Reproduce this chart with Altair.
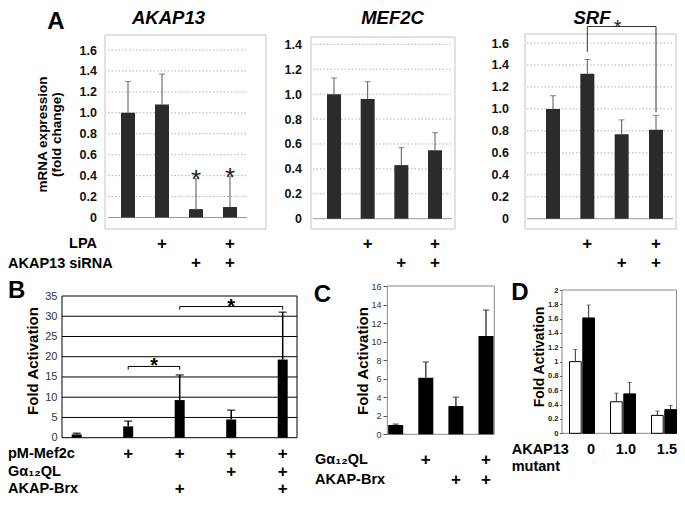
import altair as alt
import pandas as pd

FONT = "Liberation Sans"
M = 8      # page margin: the chart origin sits at page (8, 8)
DA = 7     # row A is pushed down a little so that its titles are not clipped


def P(v):
    return v - M


def PA(v):
    return v - M + DA


# ---------------------------------------------------------------- data
a_conditions = ["control", "LPA", "AKAP13 siRNA", "LPA + AKAP13 siRNA"]
a_lpa = ["", "+", "", "+"]
a_sirna = ["", "", "+", "+"]
a_titles = ["AKAP13", "MEF2C", "SRF"]
a_row_labels = ["LPA", "AKAP13 siRNA"]
a_ylabel = ["mRNA expression", "(fold change)"]

akap13_mean = [1.00, 1.08, 0.08, 0.10]
akap13_upper = [1.30, 1.37, 0.37, 0.39]
akap13_star = ["", "", "*", "*"]
akap13_ticks = [0, 0.2, 0.4, 0.6, 0.8, 1.0, 1.2, 1.4, 1.6]

mef2c_mean = [1.00, 0.96, 0.43, 0.55]
mef2c_upper = [1.13, 1.10, 0.57, 0.69]
mef2c_ticks = [0, 0.2, 0.4, 0.6, 0.8, 1.0, 1.2, 1.4]

srf_mean = [1.00, 1.32, 0.77, 0.81]
srf_upper = [1.12, 1.45, 0.90, 0.94]
srf_ticks = [0, 0.2, 0.4, 0.6, 0.8, 1.0, 1.2, 1.4, 1.6]
srf_bracket_from = ["LPA"]
srf_bracket_to = ["LPA + AKAP13 siRNA"]
srf_bracket_top = [1.75]
srf_bracket_left_end = [1.52]
srf_bracket_right_end = [0.97]

b_conditions = ["basal", "pM-Mef2c", "pM-Mef2c + AKAP-Brx",
                "pM-Mef2c + Gα12QL", "pM-Mef2c + Gα12QL + AKAP-Brx"]
b_pm = ["", "+", "+", "+", "+"]
b_g12 = ["", "", "", "+", "+"]
b_brx = ["", "", "+", "", "+"]
b_mean = [0.8, 2.8, 9.3, 4.5, 19.3]
b_upper = [1.1, 4.1, 15.5, 6.8, 31.0]
b_ticks = [0, 5, 10, 15, 20, 25, 30, 35]
b_bracket_from = ["pM-Mef2c", "pM-Mef2c + AKAP-Brx"]
b_bracket_to = ["pM-Mef2c + AKAP-Brx", "pM-Mef2c + Gα12QL + AKAP-Brx"]
b_bracket_top = [17.6, 32.4]
b_bracket_end = [16.8, 31.6]
b_row_labels = ["pM-Mef2c", "Gα₁₂QL", "AKAP-Brx"]

c_conditions = ["basal", "Gα12QL", "AKAP-Brx", "Gα12QL + AKAP-Brx"]
c_g12 = ["", "+", "", "+"]
c_brx = ["", "", "+", "+"]
c_mean = [1.0, 6.1, 3.05, 10.6]
c_upper = [1.1, 7.8, 4.0, 13.4]
c_ticks = [0, 2, 4, 6, 8, 10, 12, 14, 16]
c_row_labels = ["Gα₁₂QL", "AKAP-Brx"]

d_mutants = ["0", "1.0", "1.5"]
d_series = ["open", "filled"]
d_open_mean = [1.00, 0.44, 0.25]
d_open_upper = [1.17, 0.56, 0.31]
d_filled_mean = [1.61, 0.55, 0.33]
d_filled_upper = [1.79, 0.71, 0.39]
d_ticks = [0, 0.2, 0.4, 0.6, 0.8, 1.0, 1.2, 1.4, 1.6, 1.8, 2.0]
d_row_labels = ["AKAP13", "mutant"]

panel_letters = ["A", "B", "C", "D"]
fold_label = "Fold Activation"

ONE = pd.DataFrame({"k": [0]})


# ---------------------------------------------------------------- helpers
def text_at(txt, x, y, size, weight="bold", align="left", baseline="middle",
            angle=None, style=None, color="#000000", line_height=None):
    kw = dict(text=txt, font=FONT, fontSize=size, fontWeight=weight,
              align=align, baseline=baseline, color=color)
    if angle is not None:
        kw["angle"] = angle
    if style:
        kw["fontStyle"] = style
    if line_height:
        kw["lineHeight"] = line_height
    return alt.Chart(ONE).mark_text(**kw).encode(x=alt.value(P(x)), y=alt.value(P(y)))


def frame(x0, y0, x1, y1, color, width=1.0):
    return alt.Chart(ONE).mark_rect(fill="#ffffff", fillOpacity=0, stroke=color,
                                    strokeWidth=width).encode(
        x=alt.value(P(x0)), x2=alt.value(P(x1)), y=alt.value(y0), y2=alt.value(y1))


def grid(vals, ysc, yaxis, x0, x1, color, width=1.0, dash=None):
    kw = dict(color=color, strokeWidth=width)
    if dash:
        kw["strokeDash"] = dash
    return alt.Chart(pd.DataFrame({"v": vals})).mark_rule(**kw).encode(
        y=alt.Y("v:Q", scale=ysc, axis=yaxis), x=alt.value(P(x0)), x2=alt.value(P(x1)))


def point_panel(conds, means, uppers, xr, yd, yr, ticks, axis_x, axis_kw,
                bar_color, bar_w, err_color, err_w, cap_w):
    df = pd.DataFrame({"cond": conds, "mean": means, "upper": uppers})
    xs = alt.Scale(type="point", domain=conds, range=xr, padding=0)
    ysc = alt.Scale(domain=yd, range=yr, nice=False)
    X = alt.X("cond:N", scale=xs, axis=None)
    axis = alt.Axis(orient="left", offset=-axis_x, values=ticks, domain=False,
                    grid=False, title=None, labelFont=FONT, **axis_kw)
    bars = alt.Chart(df).mark_bar(color=bar_color, width=bar_w).encode(
        x=X, y=alt.Y("mean:Q", scale=ysc, axis=axis))
    err = alt.Chart(df).mark_rule(color=err_color, strokeWidth=err_w).encode(
        x=X, y=alt.Y("mean:Q", scale=ysc, axis=axis), y2=alt.Y2("upper"))
    cap = alt.Chart(df).mark_tick(color=err_color, thickness=err_w, size=cap_w,
                                  orient="horizontal").encode(
        x=X, y=alt.Y("upper:Q", scale=ysc, axis=axis))
    return X, xs, ysc, axis, [bars, err, cap]


def plus_row(conds, marks, X, y, size=17):
    df = pd.DataFrame({"cond": conds, "mark": marks})
    return alt.Chart(df).mark_text(font=FONT, fontSize=size, fontWeight="bold",
                                   baseline="middle").encode(
        x=X, y=alt.value(y), text="mark:N")


def bracket(froms, tos, tops, left_ends, right_ends, xs, ysc, yaxis, color, width):
    df = pd.DataFrame({"cond": froms, "to": tos, "top": tops,
                       "lend": left_ends, "rend": right_ends})
    X_from = alt.X("cond:N", scale=xs, axis=None)
    X_to = alt.X("to:N", scale=xs, axis=None)
    Yt = alt.Y("top:Q", scale=ysc, axis=yaxis)
    h = alt.Chart(df).mark_rule(color=color, strokeWidth=width).encode(
        x=X_from, x2=alt.X2("to"), y=Yt)
    l = alt.Chart(df).mark_rule(color=color, strokeWidth=width).encode(
        x=X_from, y=alt.Y("lend:Q", scale=ysc, axis=yaxis), y2=alt.Y2("top"))
    r = alt.Chart(df).mark_rule(color=color, strokeWidth=width).encode(
        x=X_to, y=alt.Y("rend:Q", scale=ysc, axis=yaxis), y2=alt.Y2("top"))
    return [h, l, r]


A_AXIS = dict(ticks=False, labelPadding=3.5, labelFontSize=12.5, labelFontWeight="bold",
              labelColor="#111111",
              labelExpr="datum.value == 0 ? '0' : format(datum.value, '.1f')")
A_BAR = dict(bar_color="#2b2b2b", bar_w=14, err_color="#555555", err_w=1, cap_w=6)

layers = []

# ---------------------------------------------------------------- panel A1 AKAP13
X1, XS1, Y1, AX1, l1 = point_panel(a_conditions, akap13_mean, akap13_upper, [P(128), P(230)],
                                   [0, 1.6], [PA(210.5), PA(43)], akap13_ticks, P(100),
                                   A_AXIS, **A_BAR)
star_df = pd.DataFrame({"cond": a_conditions, "upper": akap13_upper, "star": akap13_star})
a1 = [frame(105, PA(28), 266, PA(222), "#c4c4c4"),
      grid(akap13_ticks[1:], Y1, AX1, 108, 247, "#b0b0b0", 1, [1.5, 2]),
      grid([0], Y1, AX1, 108, 247, "#999999", 1)] + l1 + [
    alt.Chart(star_df).mark_text(font=FONT, fontSize=26, color="#222222",
                                 baseline="alphabetic", dy=9).encode(
        x=X1, y=alt.Y("upper:Q", scale=Y1, axis=AX1), text="star:N"),
    plus_row(a_conditions, a_lpa, X1, PA(237)),
    plus_row(a_conditions, a_sirna, X1, PA(256)),
]
layers.append(alt.layer(*a1))

# ---------------------------------------------------------------- panel A2 MEF2C
X2, XS2, Y2, AX2, l2 = point_panel(a_conditions, mef2c_mean, mef2c_upper, [P(334), P(435)],
                                   [0, 1.4], [PA(211.7), PA(37.3)], mef2c_ticks, P(305),
                                   A_AXIS, **A_BAR)
a2 = [frame(311, PA(30), 455, PA(222), "#c4c4c4"),
      grid(mef2c_ticks[1:], Y2, AX2, 313, 452, "#b0b0b0", 1, [1.5, 2]),
      grid([0], Y2, AX2, 313, 452, "#999999", 1)] + l2 + [
    plus_row(a_conditions, a_lpa, X2, PA(237)),
    plus_row(a_conditions, a_sirna, X2, PA(256)),
]
layers.append(alt.layer(*a2))

# ---------------------------------------------------------------- panel A3 SRF
X3, XS3, Y3, AX3, l3 = point_panel(a_conditions, srf_mean, srf_upper, [P(553), P(656)],
                                   [0, 1.6], [PA(211.7), PA(36)], srf_ticks, P(512),
                                   A_AXIS, **A_BAR)
srf_star_df = pd.DataFrame({"cond": ["AKAP13 siRNA"], "top": srf_bracket_top})
a3 = [frame(525, PA(27), 676, PA(222), "#c4c4c4"),
      grid(srf_ticks[1:], Y3, AX3, 527, 673, "#b0b0b0", 1, [1.5, 2]),
      grid([0], Y3, AX3, 527, 673, "#999999", 1)] + l3 + bracket(
    srf_bracket_from, srf_bracket_to, srf_bracket_top, srf_bracket_left_end,
    srf_bracket_right_end, XS3, Y3, AX3, "#333333", 1) + [
    alt.Chart(srf_star_df).mark_text(font=FONT, fontSize=20, text="*", color="#222222",
                                     baseline="alphabetic", dy=7, dx=-4).encode(
        x=X3, y=alt.Y("top:Q", scale=Y3, axis=AX3)),
    plus_row(a_conditions, a_lpa, X3, PA(237)),
    plus_row(a_conditions, a_sirna, X3, PA(256)),
]
layers.append(alt.layer(*a3))

# ---------------------------------------------------------------- panel B
B_AXIS = dict(ticks=False, labelPadding=5, labelFontSize=11, labelFontWeight="normal",
              labelColor="#333333")
XB, XSB, YB, AXB, lb = point_panel(b_conditions, b_mean, b_upper, [P(76.7), P(282.7)],
                                   [0, 35], [P(437.7), P(296)], b_ticks, P(62), B_AXIS,
                                   bar_color="#000000", bar_w=10, err_color="#000000",
                                   err_w=1.5, cap_w=8)
b_star1 = pd.DataFrame({"cond": [b_bracket_from[0]], "top": [b_bracket_top[0]]})
b_star2 = pd.DataFrame({"cond": ["pM-Mef2c + Gα12QL"], "top": [b_bracket_top[1]]})
bl = [grid(b_ticks[1:-1], YB, AXB, 62, 297, "#000000", 1),
      frame(62, P(296), 297, P(437.7), "#000000", 1)] + lb + bracket(
    b_bracket_from, b_bracket_to, b_bracket_top, b_bracket_end, b_bracket_end,
    XSB, YB, AXB, "#000000", 1) + [
    alt.Chart(b_star1).mark_text(font=FONT, fontSize=20, fontWeight="bold", text="*",
                                 baseline="alphabetic", dy=6, dx=26).encode(
        x=XB, y=alt.Y("top:Q", scale=YB, axis=AXB)),
    alt.Chart(b_star2).mark_text(font=FONT, fontSize=20, fontWeight="bold", text="*",
                                 baseline="alphabetic", dy=6).encode(
        x=XB, y=alt.Y("top:Q", scale=YB, axis=AXB)),
    plus_row(b_conditions, b_pm, XB, P(454)),
    plus_row(b_conditions, b_g12, XB, P(471.5)),
    plus_row(b_conditions, b_brx, XB, P(489)),
]
layers.append(alt.layer(*bl))

# ---------------------------------------------------------------- panel C
C_AXIS = dict(ticks=True, tickSize=4, tickColor="#555555", labelPadding=2,
              labelFontSize=9, labelFontWeight="normal", labelColor="#333333")
XC, XSC, YC, AXC, lc = point_panel(c_conditions, c_mean, c_upper, [P(395.7), P(486)],
                                   [0, 16], [P(434.3), P(286)], c_ticks, P(387), C_AXIS,
                                   bar_color="#000000", bar_w=15, err_color="#444444",
                                   err_w=1.5, cap_w=6)
cl = [frame(387.3, P(286), 494.3, P(434.3), "#888888", 1)] + lc + [
    plus_row(c_conditions, c_g12, XC, P(460)),
    plus_row(c_conditions, c_brx, XC, P(480)),
]
layers.append(alt.layer(*cl))

# ---------------------------------------------------------------- panel D
d_df = pd.DataFrame({
    "mutant": d_mutants * 2,
    "series": [d_series[0]] * 3 + [d_series[1]] * 3,
    "mean": d_open_mean + d_filled_mean,
    "upper": d_open_upper + d_filled_upper,
})
XDs = alt.Scale(type="band", domain=d_mutants, range=[P(561), P(684)],
                paddingInner=0, paddingOuter=0)
XD = alt.X("mutant:N", scale=XDs, axis=None)
XO = alt.XOffset("series:N", scale=alt.Scale(domain=d_series, range=[8.5, 33.5],
                                             paddingInner=0.12, paddingOuter=0))
YD = alt.Scale(domain=[0, 2], range=[P(433.3), P(290)], nice=False)
D_AXIS = alt.Axis(orient="left", offset=-P(562), values=d_ticks, domain=False, grid=False,
                  title=None, ticks=True, tickSize=2.5, tickColor="#555555", labelPadding=1.5,
                  labelFont=FONT, labelFontSize=7.5, labelFontWeight="bold",
                  labelColor="#222222", labelExpr="format(datum.value, '~g')")
d_lab = pd.DataFrame({"mutant": d_mutants})
dl = [
    frame(562, P(290), 676.5, P(433.3), "#888888", 1),
    alt.Chart(d_df).mark_bar(stroke="#000000", strokeWidth=1).encode(
        x=XD, xOffset=XO, y=alt.Y("mean:Q", scale=YD, axis=D_AXIS),
        fill=alt.Fill("series:N", scale=alt.Scale(domain=d_series, range=["#ffffff", "#000000"]),
                      legend=None)),
    alt.Chart(d_df).mark_rule(color="#333333", strokeWidth=1).encode(
        x=XD, xOffset=XO, y=alt.Y("mean:Q", scale=YD, axis=D_AXIS), y2=alt.Y2("upper")),
    alt.Chart(d_df).mark_tick(color="#333333", thickness=1, size=4, orient="horizontal").encode(
        x=XD, xOffset=XO, y=alt.Y("upper:Q", scale=YD, axis=D_AXIS)),
    alt.Chart(d_lab).mark_text(font=FONT, fontSize=14.5, fontWeight="bold", align="right",
                               baseline="middle", dx=-7).encode(
        x=alt.X("mutant:N", scale=XDs, axis=None, bandPosition=1),
        y=alt.value(P(450)), text="mutant:N"),
]
layers.append(alt.layer(*dl))

# ---------------------------------------------------------------- free text
texts = [
    text_at(panel_letters[0], 56, 22, 24, align="center"),
    text_at(a_titles[0], 168.5, 18, 18.5, align="center", style="italic"),
    text_at(a_titles[1], 392.5, 18, 18.5, align="center", style="italic"),
    text_at(a_titles[2], 592, 18, 18.5, align="center", style="italic"),
    text_at(a_ylabel, 43, 127.5 + DA, 13.5, align="center", angle=270, line_height=14),
    text_at(a_row_labels[0], 97, 237 + DA, 14.5, align="right"),
    text_at(a_row_labels[1], 8, 257 + DA, 14.5),

    text_at(panel_letters[1], 8, 291, 24),
    text_at(fold_label, 33, 361, 15, align="center", angle=270),
    text_at(b_row_labels[0], 8, 454, 14.5),
    text_at(b_row_labels[1], 8, 471.5, 14.5),
    text_at(b_row_labels[2], 8, 489, 14.5),

    text_at(panel_letters[2], 322.5, 295, 24, align="center"),
    text_at(fold_label, 363, 361, 15, align="center", angle=270),
    text_at(c_row_labels[0], 315, 460, 14.5),
    text_at(c_row_labels[1], 315, 480, 14.5),

    text_at(panel_letters[3], 520, 293, 24, align="center"),
    text_at(fold_label, 540, 357, 14, align="center", angle=270),
    text_at(d_row_labels[0], 511.7, 450, 14.5),
    text_at(d_row_labels[1], 511.7, 467, 14.5),
]

chart = alt.layer(*layers, *texts).resolve_scale(
    x="independent", y="independent"
).properties(
    width=669, height=490, padding=0, background="#ffffff",
    autosize=alt.AutoSizeParams(type="none"),
).configure_view(strokeWidth=0)

chart.save("out.html", embed_options={"renderer": "svg", "actions": False})
